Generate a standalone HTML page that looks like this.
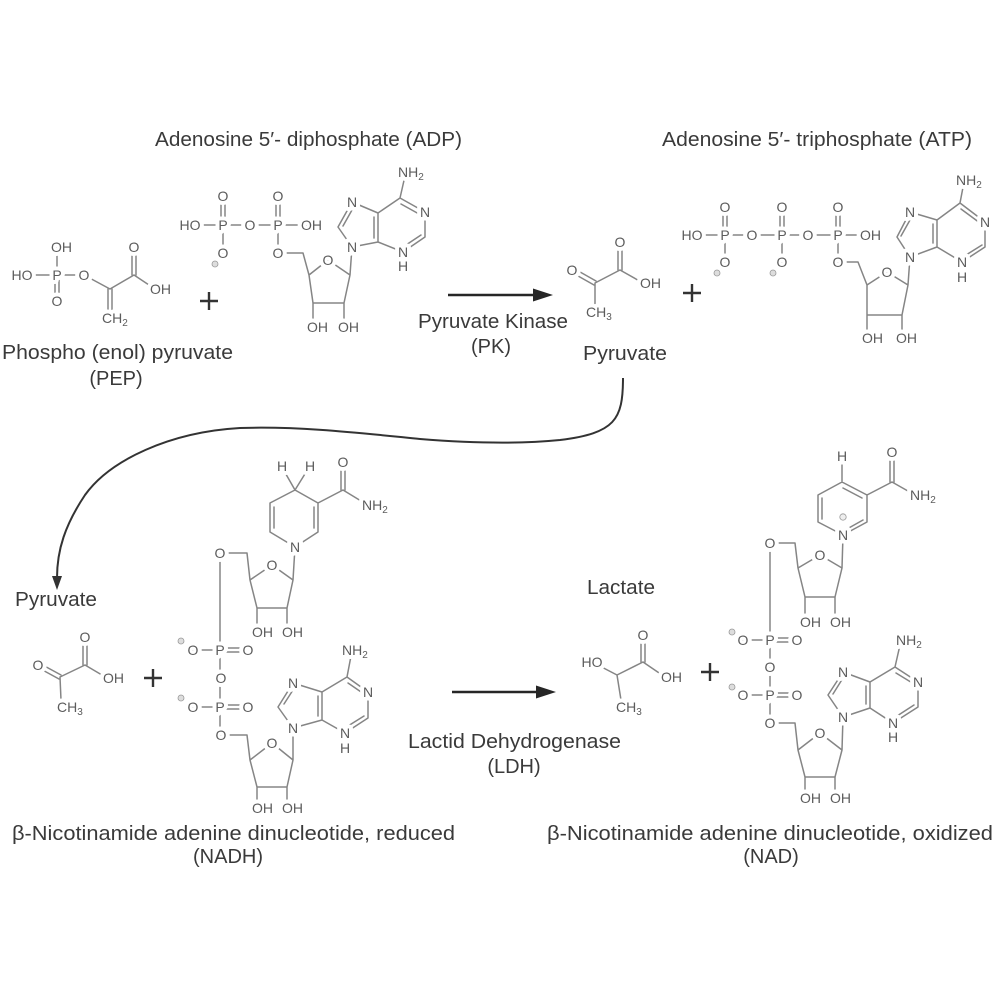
<!DOCTYPE html>
<html>
<head>
<meta charset="utf-8">
<style>
html,body{margin:0;padding:0;background:#fff;}
svg{display:block;}
.b{stroke:#858585;stroke-width:1.5;fill:none;stroke-linejoin:round;stroke-linecap:round}
.t{font-family:"Liberation Sans",sans-serif;font-size:14px;fill:#5c5c5c;stroke:#fff;stroke-width:8px;paint-order:stroke;stroke-linejoin:round}
.t tspan{stroke:none}
.c{text-anchor:middle}
.L{font-family:"Liberation Sans",sans-serif;font-size:20px;fill:#3a3a3a}
.k{stroke:#262626;stroke-width:2.5;fill:none}
.pl{stroke:#333;stroke-width:2.4;fill:none}
.m{fill:#ddd;stroke:#999;stroke-width:0.8}
</style>
</head>
<body>
<svg width="1000" height="1000" viewBox="0 0 1000 1000" xmlns="http://www.w3.org/2000/svg">

<!-- ===== Titles / labels ===== -->
<text class="L" x="155" y="146" textLength="307" lengthAdjust="spacingAndGlyphs">Adenosine 5′- diphosphate (ADP)</text>
<text class="L" x="662" y="146" textLength="310" lengthAdjust="spacingAndGlyphs">Adenosine 5′- triphosphate (ATP)</text>
<text class="L" x="2" y="359" textLength="231" lengthAdjust="spacingAndGlyphs">Phospho (enol) pyruvate</text>
<text class="L c" x="116" y="385">(PEP)</text>
<text class="L" x="418" y="328" textLength="150" lengthAdjust="spacingAndGlyphs">Pyruvate Kinase</text>
<text class="L c" x="491" y="353">(PK)</text>
<text class="L" x="583" y="360" textLength="84" lengthAdjust="spacingAndGlyphs">Pyruvate</text>
<text class="L" x="15" y="606" textLength="82" lengthAdjust="spacingAndGlyphs">Pyruvate</text>
<text class="L" x="587" y="594" textLength="68" lengthAdjust="spacingAndGlyphs">Lactate</text>
<text class="L" x="408" y="748" textLength="213" lengthAdjust="spacingAndGlyphs">Lactid Dehydrogenase</text>
<text class="L c" x="514" y="773">(LDH)</text>
<text class="L" x="12" y="840" textLength="443" lengthAdjust="spacingAndGlyphs">β-Nicotinamide adenine dinucleotide, reduced</text>
<text class="L c" x="228" y="863">(NADH)</text>
<text class="L" x="547" y="840" textLength="446" lengthAdjust="spacingAndGlyphs">β-Nicotinamide adenine dinucleotide, oxidized</text>
<text class="L c" x="771" y="863">(NAD)</text>

<!-- ===== Arrows ===== -->
<path class="k" d="M448,295 L538,295"/>
<polygon points="553,295 533,288.5 533,301.5" fill="#262626"/>
<path class="k" d="M452,692 L541,692"/>
<polygon points="556,692 536,685.5 536,698.5" fill="#262626"/>
<path d="M623,378 C623,420 615,433 560,440 C520,444 470,443 420,439 C360,433 300,426 240,428 C170,432 110,460 85,495 C65,525 57,550 57,578" stroke="#333" stroke-width="2" fill="none"/>
<polygon points="57,590 52,576 62,576" fill="#333"/>

<!-- ===== Plus signs ===== -->
<path class="pl" d="M200,301 L218,301 M209,292 L209,310"/>
<path class="pl" d="M683,293 L701,293 M692,284 L692,302"/>
<path class="pl" d="M144,678 L162,678 M153,669 L153,687"/>
<path class="pl" d="M701,672 L719,672 M710,663 L710,681"/>

<!-- ===== PEP ===== -->
<path class="b" d="M22,275 L84,275 M57,275 L57,247 M55,275 L55,301 M59,275 L59,301 M84,275 L110,289 L134,275 M132,275 L132,247 M136,275 L136,247 M134,275 L152,287 M108,289 L108,312 M112,289 L112,312"/>
<text class="t c" x="22" y="280">HO</text>
<text class="t c" x="57" y="280">P</text>
<text class="t c" x="84" y="280">O</text>
<text class="t" x="51" y="252">OH</text>
<text class="t c" x="57" y="306">O</text>
<text class="t c" x="134" y="252">O</text>
<text class="t" x="150" y="294">OH</text>
<text class="t" x="102" y="323">CH<tspan font-size="10" dy="3">2</tspan></text>

<!-- ===== ADP ===== -->
<path class="b" d="M190,225 L312,225 M221,225 L221,196 M225,225 L225,196 M276,225 L276,196 M280,225 L280,196 M223,225 L223,253 M278,225 L278,253 M278,253 L303,253 L309,275
M309,275 L328,260 L350,275 L344,303 L313,303 Z M313,303 L313,322 M344,303 L344,322 M350,275 L352,247
M352,247 L338,227 L352,202 L378,213 L378,242 Z M343,226 L352,210 M374,217 L374,238
M378,213 L400,198 L425,212 L425,237 L403,252 L378,242 M401,204 L419,214 M421,235 L406,245 M400,198 L405,176 M403,252 L403,265"/>
<circle class="m" cx="215" cy="264" r="3"/>
<text class="t c" x="190" y="230">HO</text>
<text class="t c" x="223" y="230">P</text>
<text class="t c" x="250" y="230">O</text>
<text class="t c" x="278" y="230">P</text>
<text class="t" x="301" y="230">OH</text>
<text class="t c" x="223" y="201">O</text>
<text class="t c" x="278" y="201">O</text>
<text class="t c" x="223" y="258">O</text>
<text class="t c" x="278" y="258">O</text>
<text class="t c" x="328" y="265">O</text>
<text class="t" x="307" y="332">OH</text>
<text class="t" x="338" y="332">OH</text>
<text class="t c" x="352" y="252">N</text>
<text class="t c" x="352" y="207">N</text>
<text class="t c" x="425" y="217">N</text>
<text class="t c" x="403" y="257">N</text>
<text class="t c" x="403" y="271">H</text>
<text class="t" x="398" y="177">NH<tspan font-size="10" dy="3">2</tspan></text>

<!-- ===== Pyruvate (top) ===== -->
<path class="b" d="M573,268 L596,281 M571,272 L594,285 M595,283 L620,270 M618,270 L618,242 M622,270 L622,242 M620,270 L643,283 M595,283 L595,305"/>
<text class="t c" x="572" y="275">O</text>
<text class="t c" x="620" y="247">O</text>
<text class="t" x="640" y="288">OH</text>
<text class="t" x="586" y="317">CH<tspan font-size="10" dy="3">3</tspan></text>

<!-- ===== ATP ===== -->
<path class="b" d="M692,235 L870,235 M723,235 L723,207 M727,235 L727,207 M780,235 L780,207 M784,235 L784,207 M836,235 L836,207 M840,235 L840,207
M725,235 L725,262 M782,235 L782,262 M838,235 L838,262 M838,262 L858,262 L867,285
M867,285 L887,272 L908,285 L902,315 L867,315 Z M867,315 L867,333 M902,315 L902,333 M908,285 L910,257
M910,257 L897,237 L910,212 L937,220 L937,247 Z M901,236 L910,220 M933,224 L933,243
M937,220 L960,203 L985,222 L985,247 L962,262 L937,247 M961,209 L980,223 M982,245 L966,255 M960,203 L964,182 M962,262 L962,277"/>
<circle class="m" cx="717" cy="273" r="3"/>
<circle class="m" cx="773" cy="273" r="3"/>
<text class="t c" x="692" y="240">HO</text>
<text class="t c" x="725" y="240">P</text>
<text class="t c" x="752" y="240">O</text>
<text class="t c" x="782" y="240">P</text>
<text class="t c" x="808" y="240">O</text>
<text class="t c" x="838" y="240">P</text>
<text class="t" x="860" y="240">OH</text>
<text class="t c" x="725" y="212">O</text>
<text class="t c" x="782" y="212">O</text>
<text class="t c" x="838" y="212">O</text>
<text class="t c" x="725" y="267">O</text>
<text class="t c" x="782" y="267">O</text>
<text class="t c" x="838" y="267">O</text>
<text class="t c" x="887" y="277">O</text>
<text class="t" x="862" y="343">OH</text>
<text class="t" x="896" y="343">OH</text>
<text class="t c" x="910" y="262">N</text>
<text class="t c" x="910" y="217">N</text>
<text class="t c" x="985" y="227">N</text>
<text class="t c" x="962" y="267">N</text>
<text class="t c" x="962" y="282">H</text>
<text class="t" x="956" y="185">NH<tspan font-size="10" dy="3">2</tspan></text>

<!-- ===== Pyruvate (bottom) ===== -->
<path class="b" d="M39,663 L61,675 M37,667 L59,679 M60,677 L85,665 M83,665 L83,637 M87,665 L87,637 M85,665 L107,678 M60,677 L61,700"/>
<text class="t c" x="38" y="670">O</text>
<text class="t c" x="85" y="642">O</text>
<text class="t" x="103" y="683">OH</text>
<text class="t" x="57" y="712">CH<tspan font-size="10" dy="3">3</tspan></text>

<!-- ===== Lactate ===== -->
<path class="b" d="M592,662 L617,675 L643,662 M641,662 L641,635 M645,662 L645,635 M643,662 L665,677 M617,675 L621,700"/>
<text class="t c" x="592" y="667">HO</text>
<text class="t c" x="643" y="640">O</text>
<text class="t" x="661" y="682">OH</text>
<text class="t" x="616" y="712">CH<tspan font-size="10" dy="3">3</tspan></text>

<!-- ===== NADH ===== -->
<path class="b" d="M295,490 L318,503 L318,532 L295,547 L270,532 L270,503 Z M314,507 L314,528 M274,507 L274,528
M295,490 L283,469 M295,490 L308,469
M318,503 L343,490 M341,490 L341,462 M345,490 L345,462 M343,490 L366,504
M295,547 L293,580
M250,580 L272,565 L293,580 L287,608 L257,608 Z M250,580 L247,553 L220,553 M257,608 L257,627 M287,608 L287,627
M220,553 L220,735 M193,650 L220,650 M220,648 L248,648 M220,652 L248,652 M193,707 L220,707 M220,705 L248,705 M220,709 L248,709
M220,735 L247,735 L250,760
M250,760 L272,743 L293,760 L287,787 L257,787 Z M257,787 L257,805 M287,787 L287,805 M293,760 L293,728
M293,728 L278,707 L293,683 L322,692 L322,720 Z M284,704 L293,690 M318,696 L318,716
M322,692 L347,677 L368,692 L368,718 L345,733 L322,720 M348,683 L364,694 M364,716 L348,726 M347,677 L351,656 M345,733 L345,746"/>
<circle class="m" cx="181" cy="641" r="3"/>
<circle class="m" cx="181" cy="698" r="3"/>
<text class="t c" x="282" y="471">H</text>
<text class="t c" x="310" y="471">H</text>
<text class="t c" x="343" y="467">O</text>
<text class="t" x="362" y="510">NH<tspan font-size="10" dy="3">2</tspan></text>
<text class="t c" x="295" y="552">N</text>
<text class="t c" x="272" y="570">O</text>
<text class="t c" x="220" y="558">O</text>
<text class="t" x="252" y="637">OH</text>
<text class="t" x="282" y="637">OH</text>
<text class="t c" x="193" y="655">O</text>
<text class="t c" x="220" y="655">P</text>
<text class="t c" x="248" y="655">O</text>
<text class="t c" x="221" y="683">O</text>
<text class="t c" x="193" y="712">O</text>
<text class="t c" x="220" y="712">P</text>
<text class="t c" x="248" y="712">O</text>
<text class="t c" x="221" y="740">O</text>
<text class="t c" x="272" y="748">O</text>
<text class="t" x="252" y="813">OH</text>
<text class="t" x="282" y="813">OH</text>
<text class="t c" x="293" y="733">N</text>
<text class="t c" x="293" y="688">N</text>
<text class="t c" x="368" y="697">N</text>
<text class="t c" x="345" y="738">N</text>
<text class="t c" x="345" y="753">H</text>
<text class="t" x="342" y="655">NH<tspan font-size="10" dy="3">2</tspan></text>

<!-- ===== NAD ===== -->
<path class="b" d="M842,482 L867,495 L867,522 L843,535 L818,522 L818,495 Z M843,488 L862,498 M863,520 L847,529 M822,498 L822,519
M842,482 L842,460
M867,495 L892,482 M890,482 L890,455 M894,482 L894,455 M892,482 L915,495
M843,535 L842,568
M798,568 L820,555 L842,568 L835,597 L805,597 Z M798,568 L795,543 L770,543 M805,597 L805,617 M835,597 L835,617
M770,543 L770,723 M743,640 L770,640 M770,638 L797,638 M770,642 L797,642 M743,695 L770,695 M770,693 L797,693 M770,697 L797,697
M770,723 L795,723 L798,750
M798,750 L820,733 L842,750 L835,777 L805,777 Z M805,777 L805,795 M835,777 L835,795 M842,750 L843,717
M843,717 L828,695 L843,672 L870,682 L870,708 Z M833,694 L843,678 M866,686 L866,704
M870,682 L895,667 L918,682 L918,707 L893,723 L870,708 M896,673 L914,684 M914,705 L897,716 M895,667 L900,645 M893,723 L893,735"/>
<circle class="m" cx="732" cy="632" r="3"/>
<circle class="m" cx="732" cy="687" r="3"/>
<circle cx="843" cy="517" r="3.2" fill="#eee" stroke="#999" stroke-width="0.8"/>
<text class="t c" x="842" y="461">H</text>
<text class="t c" x="892" y="457">O</text>
<text class="t" x="910" y="500">NH<tspan font-size="10" dy="3">2</tspan></text>
<text class="t c" x="843" y="540">N</text>
<text class="t c" x="820" y="560">O</text>
<text class="t c" x="770" y="548">O</text>
<text class="t" x="800" y="627">OH</text>
<text class="t" x="830" y="627">OH</text>
<text class="t c" x="743" y="645">O</text>
<text class="t c" x="770" y="645">P</text>
<text class="t c" x="797" y="645">O</text>
<text class="t c" x="770" y="672">O</text>
<text class="t c" x="743" y="700">O</text>
<text class="t c" x="770" y="700">P</text>
<text class="t c" x="797" y="700">O</text>
<text class="t c" x="770" y="728">O</text>
<text class="t c" x="820" y="738">O</text>
<text class="t" x="800" y="803">OH</text>
<text class="t" x="830" y="803">OH</text>
<text class="t c" x="843" y="722">N</text>
<text class="t c" x="843" y="677">N</text>
<text class="t c" x="918" y="687">N</text>
<text class="t c" x="893" y="728">N</text>
<text class="t c" x="893" y="742">H</text>
<text class="t" x="896" y="645">NH<tspan font-size="10" dy="3">2</tspan></text>

</svg>
</body>
</html>
